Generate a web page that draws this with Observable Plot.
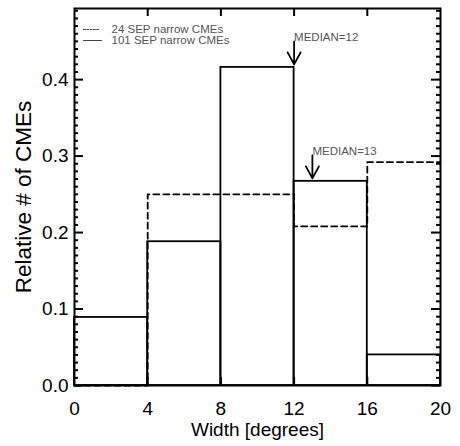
<!DOCTYPE html>
<html><head><meta charset="utf-8">
<script src="https://cdn.jsdelivr.net/npm/d3@7"></script>
<script src="https://cdn.jsdelivr.net/npm/@observablehq/plot@0.6"></script>
<style>body{margin:0;background:#fff}</style>
</head><body><div id="chart"></div>
<script>
// Bin edges (width in degrees)
const binEdges = [0, 4, 8, 12, 16, 20];
// 101 SEP narrow CMEs (solid)
const solidValues = [0.089, 0.188, 0.416, 0.267, 0.040];
// 24 SEP narrow CMEs (dashed)
const dashedValues = [0.0, 0.25, 0.25, 0.208, 0.292];
const xTicks = [0, 4, 8, 12, 16, 20];
const yTicks = [0.0, 0.1, 0.2, 0.3, 0.4];
const legendLabels = ["24 SEP narrow CMEs", "101 SEP narrow CMEs"];
const medianValues = [12, 13];
const medianLabels = ["MEDIAN=12", "MEDIAN=13"];
const yMax = 0.493;

const W = 460, H = 446, ML = 74, MR = 20, MT = 8, MB = 61;
const PW = W - ML - MR, PH = H - MT - MB;

const solidBins = solidValues.map((v, i) => ({x1: binEdges[i], x2: binEdges[i + 1], v}));
const dashedSteps = dashedValues.map((v, i) => ({x: binEdges[i], v}))
  .concat([{x: binEdges[binEdges.length - 1], v: dashedValues[dashedValues.length - 1]}]);
const medians = medianValues.map((m, i) => ({
  m, label: medianLabels[i],
  h: d3.max(solidBins.filter(b => b.x1 <= m && m <= b.x2), b => b.v)
}));
const minorY = d3.range(1, 50).map(i => i / 100).filter((d, i) => (i + 1) % 10 !== 0);
const innerX = xTicks.slice(1, -1);

const lineShape = {draw(ctx, l) { ctx.moveTo(0, 0); ctx.lineTo(0, -l); }};
const arrowShape = {draw(ctx, l) {
  ctx.moveTo(0, 0); ctx.lineTo(0, -l);
  ctx.moveTo(-6.5, -l + 12); ctx.lineTo(0, -l); ctx.lineTo(6.5, -l + 12);
}};

const tickStyle = {stroke: "black", strokeWidth: 2};

const chart = Plot.plot({
  width: W, height: H,
  marginLeft: ML, marginRight: MR, marginTop: MT, marginBottom: MB,
  style: {fontFamily: "'Liberation Sans', Arial, sans-serif", background: "white"},
  x: {domain: [0, 20]},
  y: {domain: [0, yMax]},
  marks: [
    Plot.rect(solidBins, {x1: "x1", x2: "x2", y1: 0, y2: "v", stroke: "black", fill: "none", strokeWidth: 1.8}),
    Plot.line(dashedSteps, {x: "x", y: "v", curve: "step-after", stroke: "black", strokeWidth: 1.8, strokeDasharray: "6,4"}),
    // inward ticks
    Plot.tickY(yTicks, {y: d => d, insetRight: PW - 9, ...tickStyle}),
    Plot.tickY(minorY, {y: d => d, insetRight: PW - 4, ...tickStyle}),
    Plot.tickY(yTicks, {y: d => d, insetLeft: PW - 9, ...tickStyle}),
    Plot.tickY(minorY, {y: d => d, insetLeft: PW - 4, ...tickStyle}),
    Plot.tickX(innerX, {x: d => d, insetBottom: PH - 8, ...tickStyle}),
    Plot.tickX(innerX, {x: d => d, insetTop: PH - 8, ...tickStyle}),
    Plot.frame({stroke: "black", strokeWidth: 2}),
    Plot.axisY({ticks: yTicks, tickFormat: d3.format(".1f"), tickSize: 0, tickPadding: 6, fontSize: 19, label: null}),
    Plot.axisX({ticks: xTicks, tickFormat: d3.format("d"), tickSize: 0, tickPadding: 16, fontSize: 19, label: null}),
    Plot.text(["Width [degrees]"], {frameAnchor: "bottom", dy: 44, lineAnchor: "middle", textAnchor: "middle", fontSize: 19, fill: "black"}),
    Plot.text(["Relative # of CMEs"], {frameAnchor: "left", dx: -51, rotate: -90, textAnchor: "middle", lineAnchor: "middle", fontSize: 22.5, fill: "black"}),
    // legend
    Plot.vector([0], {frameAnchor: "top-left", dx: 9, dy: 21, length: 16, rotate: 90, anchor: "start", shape: lineShape, stroke: "#444", strokeWidth: 1, strokeDasharray: "2,1.3"}),
    Plot.vector([0], {frameAnchor: "top-left", dx: 9, dy: 32, length: 18, rotate: 90, anchor: "start", shape: lineShape, stroke: "#444", strokeWidth: 1}),
    ...legendLabels.map((t, i) => Plot.text([t], {frameAnchor: "top-left", dx: 37, dy: 21 + 11 * i, textAnchor: "start", lineAnchor: "middle", fontSize: 11.5, fill: "#555"})),
    // medians
    Plot.vector(medians, {x: "m", y: "h", dy: -3, length: 23, rotate: 180, anchor: "end", shape: arrowShape, stroke: "black", fill: "none", strokeWidth: 1.8}),
    Plot.text(medians, {x: "m", y: "h", text: "label", dy: -30, textAnchor: "start", fontSize: 11.5, fill: "#555"})
  ]
});
document.getElementById("chart").appendChild(chart);
</script>
</body></html>
